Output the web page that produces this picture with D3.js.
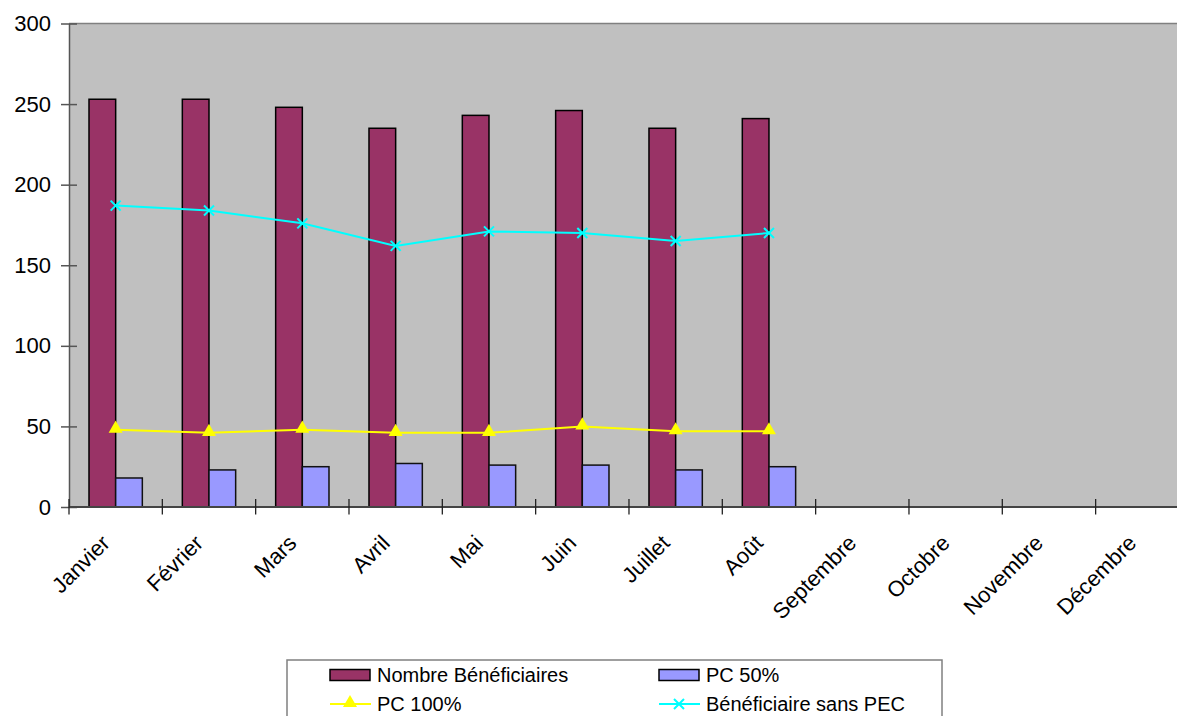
<!DOCTYPE html>
<html>
<head>
<meta charset="utf-8">
<script src="https://cdn.jsdelivr.net/npm/d3@7/dist/d3.min.js"></script>
<style>
  html, body { margin: 0; padding: 0; background: #fff; }
  svg { display: block; font-family: "Liberation Sans", Arial, sans-serif; }
</style>
</head>
<body>
<svg id="chart" width="1177" height="716"></svg>
<script>
const months = ["Janvier", "Février", "Mars", "Avril", "Mai", "Juin", "Juillet", "Août", "Septembre", "Octobre", "Novembre", "Décembre"];
const nombreBeneficiaires = [253, 253, 248, 235, 243, 246, 235, 241];
const pc50 = [18, 23, 25, 27, 26, 26, 23, 25];
const pc100 = [48, 46, 48, 46, 46, 50, 47, 47];
const sansPEC = [187, 184, 176, 162, 171, 170, 165, 170];
const yTicks = [0, 50, 100, 150, 200, 250, 300];
const seriesNames = ["Nombre Bénéficiaires", "PC 50%", "PC 100%", "Bénéficiaire sans PEC"];

(function () {
const svg = d3.select("#chart");
const pLeft = 69, pTop = 23.5, pBottom = 507, step = 93.33;
const pRight = pLeft + months.length * step;

const x = d3.scaleBand().domain(months).range([pLeft, pRight]).paddingInner(0).paddingOuter(0);
const xs = d3.scaleBand().domain(["nb", "pc50"]).range([0, x.bandwidth()]).paddingInner(0).paddingOuter(0.75);
const y = d3.scaleLinear().domain([0, 300]).range([pBottom, pTop]);

// plot background
svg.append("rect").attr("x", pLeft).attr("y", pTop).attr("width", pRight - pLeft).attr("height", pBottom - pTop)
  .attr("fill", "#C0C0C0");
svg.append("line").attr("x1", pLeft).attr("x2", pRight).attr("y1", pTop).attr("y2", pTop)
  .attr("stroke", "#808080").attr("stroke-width", 1.5);

// bars
const gBars = svg.append("g");
gBars.selectAll("rect.nb").data(nombreBeneficiaires).join("rect").attr("class", "nb")
  .attr("x", (d, i) => x(months[i]) + xs("nb"))
  .attr("y", d => y(d))
  .attr("width", xs.bandwidth())
  .attr("height", d => y(0) - y(d))
  .attr("fill", "#993366").attr("stroke", "#000").attr("stroke-width", 1.5);
gBars.selectAll("rect.pc").data(pc50).join("rect").attr("class", "pc")
  .attr("x", (d, i) => x(months[i]) + xs("pc50"))
  .attr("y", d => y(d))
  .attr("width", xs.bandwidth())
  .attr("height", d => y(0) - y(d))
  .attr("fill", "#9999FF").attr("stroke", "#111").attr("stroke-width", 1.5);

// axes
const yAxis = d3.axisLeft(y).tickValues(yTicks).tickSize(0).tickPadding(18);
const gy = svg.append("g").attr("transform", `translate(${pLeft},0)`).call(yAxis);
gy.select(".domain").attr("stroke", "#555").attr("stroke-width", 1.5);
gy.selectAll(".tick text").attr("font-size", 22).attr("fill", "#000").attr("font-family", "Liberation Sans, Arial, sans-serif");
gy.selectAll(".tick").append("line").attr("x1", -8).attr("x2", 8).attr("stroke", "#555").attr("stroke-width", 1.5);

const gx = svg.append("g").attr("transform", `translate(0,${pBottom})`);
gx.append("line").attr("x1", pLeft).attr("x2", pRight).attr("stroke", "#444").attr("stroke-width", 2);
const tickPositions = months.map(m => x(m));
gx.selectAll("line.tk").data(tickPositions).join("line").attr("class", "tk")
  .attr("x1", d => d).attr("x2", d => d).attr("y1", -8).attr("y2", 7.5)
  .attr("stroke", "#222").attr("stroke-width", 1.3);
gx.selectAll("text").data(months).join("text")
  .attr("transform", m => `translate(${x(m) + x.bandwidth() / 2 - 10},${32}) rotate(-45)`)
  .attr("text-anchor", "end")
  .attr("dy", "0.35em")
  .attr("font-size", 22)
  .attr("fill", "#000")
  .text(m => m);

// lines
const lineGen = d3.line().x((d, i) => x(months[i]) + x.bandwidth() / 2).y(d => y(d));
svg.append("path").datum(pc100).attr("d", lineGen).attr("fill", "none").attr("stroke", "#FFFF00").attr("stroke-width", 2);
svg.append("path").datum(sansPEC).attr("d", lineGen).attr("fill", "none").attr("stroke", "#00FFFF").attr("stroke-width", 2);

const tri = d3.symbol().type(d3.symbolTriangle).size(85);
svg.selectAll("path.tri").data(pc100).join("path").attr("class", "tri")
  .attr("transform", (d, i) => `translate(${x(months[i]) + x.bandwidth() / 2},${y(d) - 1})`)
  .attr("d", tri).attr("fill", "#FFFF00");
const xSize = 5;
const xPath = (cx, cy) => `M${cx - xSize},${cy - xSize}L${cx + xSize},${cy + xSize}M${cx - xSize},${cy + xSize}L${cx + xSize},${cy - xSize}`;
svg.selectAll("path.cx").data(sansPEC).join("path").attr("class", "cx")
  .attr("d", (d, i) => xPath(x(months[i]) + x.bandwidth() / 2, y(d)))
  .attr("stroke", "#00FFFF").attr("stroke-width", 2).attr("fill", "none");

// legend
const lg = svg.append("g");
lg.append("rect").attr("x", 287).attr("y", 660).attr("width", 655).attr("height", 80)
  .attr("fill", "#fff").attr("stroke", "#808080").attr("stroke-width", 1.5);
const cols = [330, 659];
const rows = [675, 704];
const legendItems = [
  { name: seriesNames[0], type: "bar", color: "#993366", col: 0, row: 0 },
  { name: seriesNames[1], type: "bar", color: "#9999FF", col: 1, row: 0 },
  { name: seriesNames[2], type: "tri", color: "#FFFF00", col: 0, row: 1 },
  { name: seriesNames[3], type: "x", color: "#00FFFF", col: 1, row: 1 }
];
legendItems.forEach(it => {
  const lx = cols[it.col], ly = rows[it.row];
  if (it.type === "bar") {
    lg.append("rect").attr("x", lx).attr("y", ly - 5.5).attr("width", 40).attr("height", 11)
      .attr("fill", it.color).attr("stroke", "#000").attr("stroke-width", 1.5);
  } else {
    lg.append("line").attr("x1", lx).attr("x2", lx + 41).attr("y1", ly).attr("y2", ly)
      .attr("stroke", it.color).attr("stroke-width", 2);
    if (it.type === "tri") {
      lg.append("path").attr("transform", `translate(${lx + 20},${ly - 1})`).attr("d", tri).attr("fill", it.color);
    } else {
      lg.append("path").attr("d", xPath(lx + 20, ly)).attr("stroke", it.color).attr("stroke-width", 2);
    }
  }
  lg.append("text").attr("x", lx + 47).attr("y", ly + 6.5).attr("font-size", 20).attr("fill", "#000").text(it.name);
});
})();
</script>
</body>
</html>
